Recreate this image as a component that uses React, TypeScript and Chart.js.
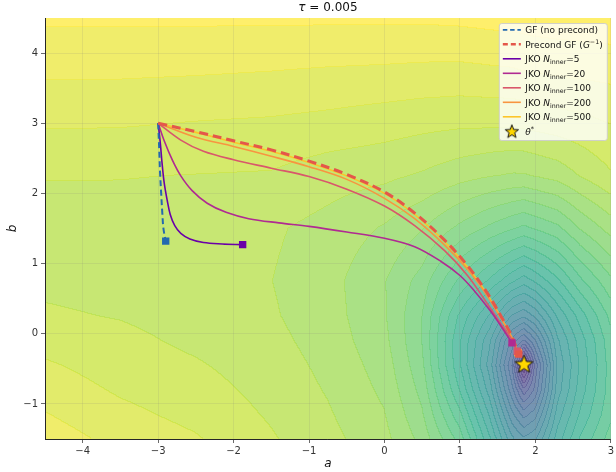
import React, { useEffect, useRef } from "react";
import { Chart, registerables } from "chart.js";

Chart.register(...registerables);

// ---------------- data ----------------
const X_MIN = -4.5;
const X_MAX = 3;
const Y_MIN = -1.5;
const Y_MAX = 4.5;
const X_TICKS = [-4, -3, -2, -1, 0, 1, 2, 3];
const Y_TICKS = [-1, 0, 1, 2, 3, 4];
const TAU_TEXT = "0.005";

// loss landscape levels (0 = minimum, 1 = highest level)
const FIELD_A = [-4.5, -3.5, -2.5, -1.5, -0.75, 0, 0.5, 1, 1.4, 1.7, 1.85, 2.0, 2.3, 2.6, 3];
const FIELD_B = [4.5, 3.75, 3, 2.25, 1.5, 0.75, 0.25, -0.1, -0.45, -0.8, -1.15, -1.5];
// one column per FIELD_A entry, values along FIELD_B
const FIELD_T = [
  [0.975, 0.945, 0.913, 0.88, 0.868, 0.872, 0.883, 0.897, 0.913, 0.926, 0.941, 0.955],
  [0.975, 0.945, 0.912, 0.88, 0.866, 0.868, 0.877, 0.887, 0.895, 0.905, 0.917, 0.93],
  [0.975, 0.943, 0.908, 0.878, 0.862, 0.861, 0.866, 0.872, 0.882, 0.891, 0.9, 0.912],
  [0.975, 0.94, 0.905, 0.876, 0.853, 0.849, 0.852, 0.857, 0.863, 0.869, 0.875, 0.882],
  [0.975, 0.937, 0.9, 0.862, 0.838, 0.83, 0.832, 0.836, 0.841, 0.846, 0.852, 0.858],
  [0.975, 0.935, 0.893, 0.855, 0.815, 0.79, 0.792, 0.797, 0.805, 0.812, 0.82, 0.828],
  [0.975, 0.933, 0.888, 0.845, 0.79, 0.745, 0.728, 0.727, 0.735, 0.748, 0.762, 0.778],
  [0.977, 0.932, 0.885, 0.83, 0.75, 0.66, 0.6, 0.58, 0.58, 0.605, 0.645, 0.685],
  [0.98, 0.935, 0.885, 0.82, 0.72, 0.6, 0.51, 0.46, 0.44, 0.47, 0.51, 0.55],
  [0.982, 0.937, 0.885, 0.815, 0.7, 0.55, 0.42, 0.32, 0.27, 0.31, 0.37, 0.43],
  [0.983, 0.94, 0.887, 0.815, 0.69, 0.53, 0.4, 0.27, 0.07, 0.22, 0.32, 0.4],
  [0.985, 0.942, 0.89, 0.82, 0.7, 0.55, 0.43, 0.33, 0.25, 0.28, 0.35, 0.42],
  [0.987, 0.945, 0.895, 0.83, 0.72, 0.6, 0.52, 0.48, 0.46, 0.47, 0.5, 0.53],
  [0.988, 0.947, 0.9, 0.85, 0.76, 0.66, 0.59, 0.56, 0.55, 0.56, 0.58, 0.61],
  [0.99, 0.95, 0.91, 0.875, 0.8, 0.72, 0.675, 0.655, 0.65, 0.65, 0.66, 0.68],
];
const N_LEVELS = 33;

// trajectories
const GF_A = [-3, -2.985, -2.975, -2.96, -2.945, -2.93, -2.9];
const GF_B = [3, 2.6, 2.3, 2.0, 1.72, 1.5, 1.32];

const PGF_A = [-3, -2.5, -2, -1.5, -1, -0.5, 0, 0.4, 0.8, 1.1, 1.35, 1.55, 1.68, 1.78];
const PGF_B = [3, 2.88, 2.75, 2.62, 2.46, 2.27, 2.02, 1.72, 1.33, 0.97, 0.6, 0.24, -0.02, -0.29];

const JKO5_A = [-3, -2.97, -2.95, -2.92, -2.88, -2.84, -2.78, -2.7, -2.58, -2.4, -2.15, -1.88];
const JKO5_B = [3, 2.7, 2.45, 2.15, 1.9, 1.7, 1.54, 1.43, 1.35, 1.3, 1.28, 1.27];

const JKO20_A = [-3, -2.92, -2.81, -2.7, -2.55, -2.35, -2.1, -1.8, -1.4, -1, -0.5, 0, 0.4, 0.75, 1.0, 1.2, 1.4, 1.55, 1.69];
const JKO20_B = [3, 2.75, 2.47, 2.25, 2.04, 1.86, 1.73, 1.64, 1.58, 1.53, 1.45, 1.36, 1.24, 1.03, 0.83, 0.6, 0.33, 0.1, -0.13];

const JKO100_A = [-3, -2.7, -2.4, -2, -1.5, -1, -0.5, 0, 0.4, 0.8, 1.1, 1.35, 1.55, 1.68, 1.76];
const JKO100_B = [3, 2.76, 2.6, 2.48, 2.36, 2.24, 2.06, 1.82, 1.54, 1.18, 0.83, 0.45, 0.13, -0.07, -0.25];

const JKO200_A = [-3, -2.5, -2, -1.5, -1, -0.5, 0, 0.4, 0.8, 1.1, 1.35, 1.55, 1.68, 1.77];
const JKO200_B = [3, 2.8, 2.67, 2.53, 2.38, 2.2, 1.93, 1.64, 1.26, 0.92, 0.56, 0.21, -0.04, -0.27];

const JKO500_A = [-3, -2.5, -2, -1.5, -1, -0.5, 0, 0.4, 0.8, 1.1, 1.35, 1.55, 1.68, 1.77];
const JKO500_B = [3, 2.87, 2.73, 2.6, 2.44, 2.25, 2.0, 1.7, 1.31, 0.95, 0.58, 0.22, -0.04, -0.27];

const N_INNER = [5, 20, 100, 200, 500];
const THETA_A = 1.85;
const THETA_B = -0.43;

// ---------------- styles ----------------
const VIRIDIS = [
  [68, 1, 84], [72, 36, 117], [65, 68, 135], [53, 95, 141], [42, 120, 142],
  [33, 145, 140], [34, 168, 132], [68, 191, 112], [122, 209, 81], [189, 223, 38], [253, 231, 37],
];
const FONT = '"DejaVu Sans", "Liberation Sans", sans-serif';

type Seg = { t: string; it?: boolean; sub?: boolean; sup?: boolean };

const jkoLabel = (n: number): Seg[] => [
  { t: "JKO " }, { t: "N", it: true }, { t: "inner", sub: true }, { t: "=" + n },
];

const SERIES = [
  { label: [{ t: "GF (no precond)" }] as Seg[], A: GF_A, B: GF_B, color: "#2369b0", width: 2, dash: [6, 3.5], order: 3 },
  { label: [{ t: "Precond GF (" }, { t: "G", it: true }, { t: "\u22121", sup: true }, { t: ")" }] as Seg[], A: PGF_A, B: PGF_B, color: "#e4574a", width: 3, dash: [9, 5], order: 2 },
  { label: jkoLabel(N_INNER[0]), A: JKO5_A, B: JKO5_B, color: "#6a00a8", width: 1.6, dash: [] as number[], order: 4 },
  { label: jkoLabel(N_INNER[1]), A: JKO20_A, B: JKO20_B, color: "#b02a92", width: 1.6, dash: [] as number[], order: 5 },
  { label: jkoLabel(N_INNER[2]), A: JKO100_A, B: JKO100_B, color: "#d9576b", width: 1.6, dash: [] as number[], order: 6 },
  { label: jkoLabel(N_INNER[3]), A: JKO200_A, B: JKO200_B, color: "#f89540", width: 1.6, dash: [] as number[], order: 7 },
  { label: jkoLabel(N_INNER[4]), A: JKO500_A, B: JKO500_B, color: "#fcc52a", width: 1.6, dash: [] as number[], order: 8 },
];
const STAR_LABEL: Seg[] = [{ t: "\u03b8", it: true }, { t: "*", sup: true }];

function viridis(v: number): number[] {
  const x = Math.max(0, Math.min(1, v)) * (VIRIDIS.length - 1);
  const i = Math.min(VIRIDIS.length - 2, Math.floor(x));
  const f = x - i;
  const c0 = VIRIDIS[i], c1 = VIRIDIS[i + 1];
  return [c0[0] + (c1[0] - c0[0]) * f, c0[1] + (c1[1] - c0[1]) * f, c0[2] + (c1[2] - c0[2]) * f];
}

function sampleField(a: number, b: number): number {
  let i = 0;
  while (i < FIELD_A.length - 2 && a > FIELD_A[i + 1]) i++;
  let j = 0;
  while (j < FIELD_B.length - 2 && b < FIELD_B[j + 1]) j++;
  const fa = Math.max(0, Math.min(1, (a - FIELD_A[i]) / (FIELD_A[i + 1] - FIELD_A[i])));
  const fb = Math.max(0, Math.min(1, (FIELD_B[j] - b) / (FIELD_B[j] - FIELD_B[j + 1])));
  const t00 = FIELD_T[i][j], t10 = FIELD_T[i + 1][j];
  const t01 = FIELD_T[i][j + 1], t11 = FIELD_T[i + 1][j + 1];
  return (t00 * (1 - fa) + t10 * fa) * (1 - fb) + (t01 * (1 - fa) + t11 * fa) * fb;
}

function makeStar(outer: number): HTMLCanvasElement {
  const s = Math.ceil(outer * 2 + 4);
  const c = document.createElement("canvas");
  c.width = s;
  c.height = s;
  const ctx = c.getContext("2d")!;
  const cx = s / 2, cy = s / 2 + outer * 0.08;
  const inner = outer * 0.42;
  ctx.beginPath();
  for (let k = 0; k < 10; k++) {
    const r = k % 2 === 0 ? outer : inner;
    const ang = -Math.PI / 2 + (k * Math.PI) / 5;
    const px = cx + r * Math.cos(ang), py = cy + r * Math.sin(ang);
    if (k === 0) ctx.moveTo(px, py);
    else ctx.lineTo(px, py);
  }
  ctx.closePath();
  ctx.fillStyle = "#ffd700";
  ctx.fill();
  ctx.lineWidth = 1;
  ctx.strokeStyle = "#111";
  ctx.stroke();
  return c;
}

function drawRich(ctx: CanvasRenderingContext2D, segs: Seg[], x: number, y: number, size: number, align: "left" | "center") {
  const fontFor = (s: Seg) => `${s.it ? "italic " : ""}${s.sub || s.sup ? size * 0.7 : size}px ${FONT}`;
  let total = 0;
  for (const s of segs) {
    ctx.font = fontFor(s);
    total += ctx.measureText(s.t).width;
  }
  let cx = align === "center" ? x - total / 2 : x;
  ctx.textAlign = "left";
  ctx.textBaseline = "alphabetic";
  for (const s of segs) {
    ctx.font = fontFor(s);
    const dy = s.sub ? size * 0.22 : s.sup ? -size * 0.42 : 0;
    ctx.fillText(s.t, cx, y + dy);
    cx += ctx.measureText(s.t).width;
  }
}

const fieldPlugin = {
  id: "fieldPlugin",
  beforeDraw(chart: any) {
    const area = chart.chartArea;
    const xs = chart.scales.x, ys = chart.scales.y;
    const w = Math.round(area.right - area.left);
    const h = Math.round(area.bottom - area.top);
    if (!chart.$fieldCanvas) {
      const lv = new Int16Array(w * h);
      for (let py = 0; py < h; py++) {
        const b = ys.getValueForPixel(area.top + py + 0.5);
        for (let px = 0; px < w; px++) {
          const a = xs.getValueForPixel(area.left + px + 0.5);
          const t = sampleField(a, b);
          lv[py * w + px] = Math.max(0, Math.min(N_LEVELS - 1, Math.floor(t * N_LEVELS)));
        }
      }
      const off = document.createElement("canvas");
      off.width = w;
      off.height = h;
      const octx = off.getContext("2d")!;
      const img = octx.createImageData(w, h);
      const cache: number[][] = [];
      for (let k = 0; k < N_LEVELS; k++) cache.push(viridis(k / (N_LEVELS - 1)));
      for (let py = 0; py < h; py++) {
        for (let px = 0; px < w; px++) {
          const idx = py * w + px;
          const k = lv[idx];
          const edge =
            (px + 1 < w && lv[idx + 1] !== k) || (py + 1 < h && lv[idx + w] !== k);
          const c = cache[k];
          const al = edge ? 0.8 : 0.68;
          const o = idx * 4;
          img.data[o] = Math.round(255 * (1 - al) + c[0] * al);
          img.data[o + 1] = Math.round(255 * (1 - al) + c[1] * al);
          img.data[o + 2] = Math.round(255 * (1 - al) + c[2] * al);
          img.data[o + 3] = 255;
        }
      }
      octx.putImageData(img, 0, 0);
      chart.$fieldCanvas = off;
    }
    chart.ctx.drawImage(chart.$fieldCanvas, area.left, area.top, w, h);
  },
};

const decorPlugin = {
  id: "decorPlugin",
  afterDraw(chart: any) {
    const ctx: CanvasRenderingContext2D = chart.ctx;
    const area = chart.chartArea;
    ctx.save();
    ctx.fillStyle = "#111";
    // title
    drawRich(ctx, [{ t: "\u03c4", it: true }, { t: " = " + TAU_TEXT }], (area.left + area.right) / 2, 11, 12, "center");
    // axis labels
    drawRich(ctx, [{ t: "a", it: true }], (area.left + area.right) / 2, 467, 12, "center");
    ctx.save();
    ctx.translate(16, (area.top + area.bottom) / 2);
    ctx.rotate(-Math.PI / 2);
    drawRich(ctx, [{ t: "b", it: true }], 0, 0, 12, "center");
    ctx.restore();

    // legend
    const lx = area.right - 112, ly = area.top + 5, lw = 108, lh = 117;
    ctx.fillStyle = "rgba(255,255,255,0.8)";
    ctx.strokeStyle = "rgba(204,204,204,0.9)";
    ctx.lineWidth = 1;
    ctx.beginPath();
    (ctx as any).roundRect(lx + 0.5, ly + 0.5, lw, lh, 2.5);
    ctx.fill();
    ctx.stroke();
    const rowH = 14.5;
    SERIES.forEach((s, i) => {
      const yc = ly + 6.8 + i * rowH;
      ctx.save();
      ctx.strokeStyle = s.color;
      ctx.lineWidth = s.dash.length ? (s.width > 2 ? 2.6 : 1.8) : 1.6;
      ctx.setLineDash(s.dash.length ? (s.width > 2 ? [5, 3] : [4.5, 2.8]) : []);
      ctx.beginPath();
      ctx.moveTo(lx + 4, yc);
      ctx.lineTo(lx + 22, yc);
      ctx.stroke();
      ctx.restore();
      ctx.fillStyle = "#111";
      drawRich(ctx, s.label, lx + 26.5, yc + 3.3, 9, "left");
    });
    const ys = ly + 6.8 + SERIES.length * rowH;
    const st = makeStar(7);
    ctx.drawImage(st, lx + 13 - st.width / 2, ys - st.height / 2);
    ctx.fillStyle = "#111";
    drawRich(ctx, STAR_LABEL, lx + 26.5, ys + 3.3, 9, "left");
    ctx.restore();
  },
};

const fmt = (v: number) => (v < 0 ? "\u2212" + Math.abs(v) : String(v));

export default function App() {
  const ref = useRef<HTMLCanvasElement>(null);
  useEffect(() => {
    const datasets: any[] = [];
    SERIES.forEach((s) => {
      datasets.push({
        type: "scatter",
        label: "line",
        data: s.A.map((a, i) => ({ x: a, y: s.B[i] })),
        showLine: true,
        borderColor: s.color,
        backgroundColor: s.color,
        borderWidth: s.width,
        borderDash: s.dash,
        borderCapStyle: "butt",
        pointRadius: 0,
        pointHoverRadius: 0,
        tension: 0.35,
        order: s.order + 10,
      });
      const n = s.A.length - 1;
      datasets.push({
        type: "scatter",
        label: "end",
        data: [{ x: s.A[n], y: s.B[n] }],
        pointStyle: "rect",
        pointRadius: 5.2,
        backgroundColor: s.color,
        borderColor: s.color,
        borderWidth: 0,
        order: s.order,
      });
    });
    datasets.push({
      type: "scatter",
      label: "theta",
      data: [{ x: THETA_A, y: THETA_B }],
      pointStyle: makeStar(9.5),
      pointRadius: 10,
      order: 0,
    });

    const tickFont = { family: FONT, size: 10 };
    const chart = new Chart(ref.current!, {
      type: "scatter",
      data: { datasets },
      plugins: [fieldPlugin, decorPlugin],
      options: {
        responsive: false,
        animation: false,
        events: [],
        layout: { autoPadding: false, padding: { top: 18, right: 2, left: 0, bottom: 0 } },
        plugins: { legend: { display: false }, tooltip: { enabled: false }, title: { display: false } },
        scales: {
          x: {
            type: "linear",
            min: X_MIN,
            max: X_MAX,
            afterBuildTicks: (sc: any) => {
              sc.ticks = X_TICKS.map((v) => ({ value: v }));
            },
            afterFit: (sc: any) => {
              sc.height = 33;
            },
            ticks: { font: tickFont, color: "#333", padding: 2, maxRotation: 0, autoSkip: false, callback: (v: any) => fmt(Number(v)) },
            grid: { color: "rgba(128,128,128,0.18)", lineWidth: 0.8, tickColor: "#444", tickLength: 4, tickWidth: 0.8 },
            border: { display: true, color: "#262626", width: 1 },
          },
          y: {
            type: "linear",
            min: Y_MIN,
            max: Y_MAX,
            afterBuildTicks: (sc: any) => {
              sc.ticks = Y_TICKS.map((v) => ({ value: v }));
            },
            afterFit: (sc: any) => {
              sc.width = 45;
            },
            ticks: { font: tickFont, color: "#333", padding: 3, autoSkip: false, callback: (v: any) => fmt(Number(v)) },
            grid: { color: "rgba(128,128,128,0.18)", lineWidth: 0.8, tickColor: "#444", tickLength: 4, tickWidth: 0.8 },
            border: { display: true, color: "#262626", width: 1 },
          },
        },
      } as any,
    });
    return () => chart.destroy();
  }, []);
  return (
    <div style={{ position: "fixed", left: 0, top: 0, width: 616, height: 472, background: "#fff" }}>
      <canvas ref={ref} width={616} height={472} style={{ display: "block", width: 616, height: 472 }} />
    </div>
  );
}
